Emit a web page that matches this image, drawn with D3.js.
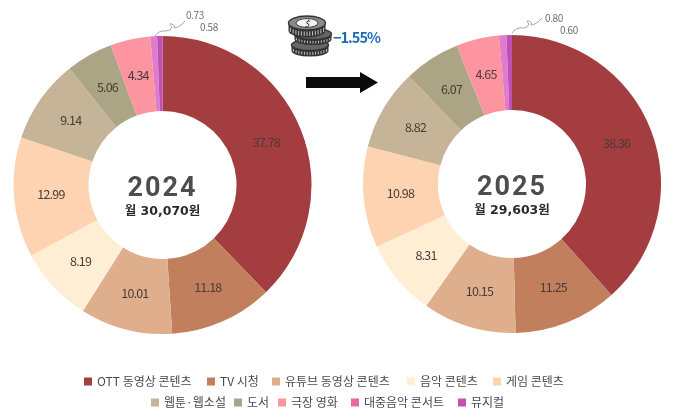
<!DOCTYPE html>
<html><head><meta charset="utf-8">
<script src="https://cdnjs.cloudflare.com/ajax/libs/d3/7.8.5/d3.min.js"></script>
<style>html,body{margin:0;padding:0;background:#fff}svg{display:block;filter:blur(.4px)}text{font-family:"Noto Sans CJK KR","Noto Sans",sans-serif}</style>
</head><body><svg id="c" width="680" height="419"></svg>
<script>
const categories=["OTT 동영상 콘텐츠","TV 시청","유튜브 동영상 콘텐츠","음악 콘텐츠","게임 콘텐츠","웹툰·웹소설","도서","극장 영화","대중음악 콘서트","뮤지컬"];
const colors=["#a33d3f","#c17f5e","#dfae8c","#fdeed4","#fdd3b2","#c6b499","#aba585","#fc95a0","#e8689f","#c252b0"];
const sliceColors=["#a33d3f","#c17f5e","#dfae8c","#fdeed4","#fdd3b2","#c6b499","#aba585","#fc95a0","#df7ccb","#bf50b8"];
const values2024=[37.78,11.18,10.01,8.19,12.99,9.14,5.06,4.34,0.73,0.58];
const values2025=[38.36,11.25,10.15,8.31,10.98,8.82,6.07,4.65,0.80,0.60];
const years=["2024","2025"];
const subtitles=["월 30,070원","월 29,603원"];
const changeLabel="−1.55%";
const legendRows=[[0,1,2,3,4],[5,6,7,8,9]];

const svg=d3.select("#c");
const pieGen=d3.pie().sort(null).value(d=>d);
const arc=d3.arc().innerRadius(74).outerRadius(149);
const labelRadius=112;

function donut(cx,cy,vals,year,sub,lead,t1,t2){
  const g=svg.append("g").attr("transform",`translate(${cx},${cy})`);
  const arcs=pieGen(vals);
  g.selectAll("path").data(arcs).join("path").attr("d",arc).attr("fill",(d,i)=>sliceColors[i]);
  g.selectAll("text.v").data(arcs.slice(0,8)).join("text").attr("class","v")
    .attr("transform",d=>{const a=(d.startAngle+d.endAngle)/2;return `translate(${Math.sin(a)*labelRadius},${-Math.cos(a)*labelRadius})`})
    .attr("text-anchor","middle").attr("dy","0.35em").attr("font-size",12.5).attr("letter-spacing",-0.8).attr("fill","#4a3d35")
    .text(d=>d.value.toFixed(2));
  g.append("text").attr("text-anchor","middle").attr("y",11).attr("font-size",27).attr("font-weight",700)
    .attr("letter-spacing",2).style("font-family","Roboto").attr("fill","#4d4d4d").text(year);
  g.append("text").attr("text-anchor","middle").attr("y",29.5).attr("font-size",12.5).attr("font-weight",700)
    .style("font-family","'DejaVu Sans','Noto Sans CJK KR'").attr("fill","#2a2a2a").text(sub);
  svg.append("path").attr("fill","none").attr("stroke","#8f8f8f").attr("stroke-width",.8)
    .attr("d",`M${lead[0]},${lead[1]} q4,-6 11,-5 q5,0 6,-4 q-4,-4 0,-3 q4,2 2,4 q5,0 11,-7`);
  svg.append("text").attr("x",t1[0]).attr("y",t1[1]).attr("font-size",10).attr("letter-spacing",-.4).attr("fill","#6e6e6e").text(vals[8].toFixed(2));
  svg.append("text").attr("x",t2[0]).attr("y",t2[1]).attr("font-size",10).attr("letter-spacing",-.4).attr("fill","#6e6e6e").text(vals[9].toFixed(2));
}
donut(162.5,185,values2024,years[0],subtitles[0],[155,36],[186,19],[200,31]);
donut(512,184,values2025,years[1],subtitles[1],[512,33],[545,22],[560,34]);

// coins icon
function coin(cx,cy,rx,ry,h,ringFill){
  const c=svg.append("g");
  c.append("path").attr("fill","#333").attr("d",`M${cx-rx},${cy} v${h} a${rx},${ry} 0 0 0 ${2*rx},0 v${-h} z`);
  c.selectAll("line").data(d3.range(-0.9,0.91,0.15)).join("line")
    .attr("x1",d=>cx+d*rx).attr("x2",d=>cx+d*rx)
    .attr("y1",d=>cy+ry*Math.sqrt(1-d*d)+1.5).attr("y2",d=>cy+h+ry*Math.sqrt(1-d*d)-1.5)
    .attr("stroke","#cfcfcf").attr("stroke-width",.9);
  c.append("ellipse").attr("cx",cx).attr("cy",cy).attr("rx",rx).attr("ry",ry).attr("fill",ringFill).attr("stroke","#333").attr("stroke-width",1.4);
}
coin(310,45,18.5,5.5,6,"#666");
coin(313,34,18.5,5.5,5.5,"#666");
coin(307,23,18.5,7,7.5,"#8a8a8a");
svg.append("ellipse").attr("cx",307).attr("cy",23).attr("rx",11).attr("ry",4.4).attr("fill","#f4f4f4").attr("stroke","#333").attr("stroke-width",.9);
svg.append("text").attr("x",307).attr("y",26.5).attr("text-anchor","middle").attr("font-size",9).attr("font-style","italic").attr("fill","#222").text("$");
svg.append("text").attr("x",333).attr("y",43).attr("font-size",14.5).attr("font-weight",700).attr("letter-spacing",-1).attr("fill","#1b6cb8").text(changeLabel);

// arrow
svg.append("path").attr("fill","#0a0a0a").attr("d","M306,77 H360 V72 L378,82.5 L360,93 V88 H306 Z");

// legend
const rowY=[382,403];
const rowX=[[84,207,272,407,493],[151,234,278,351,458]];
legendRows.forEach((r,ri)=>r.forEach((idx,k)=>{
  const x=rowX[ri][k];
  svg.append("rect").attr("x",x).attr("y",rowY[ri]-4.5).attr("width",8).attr("height",8).attr("fill",colors[idx]);
  svg.append("text").attr("x",x+13).attr("y",rowY[ri]+4).attr("font-size",12).attr("fill","#4a4a4a").text(categories[idx]);
}));
</script></body></html>
